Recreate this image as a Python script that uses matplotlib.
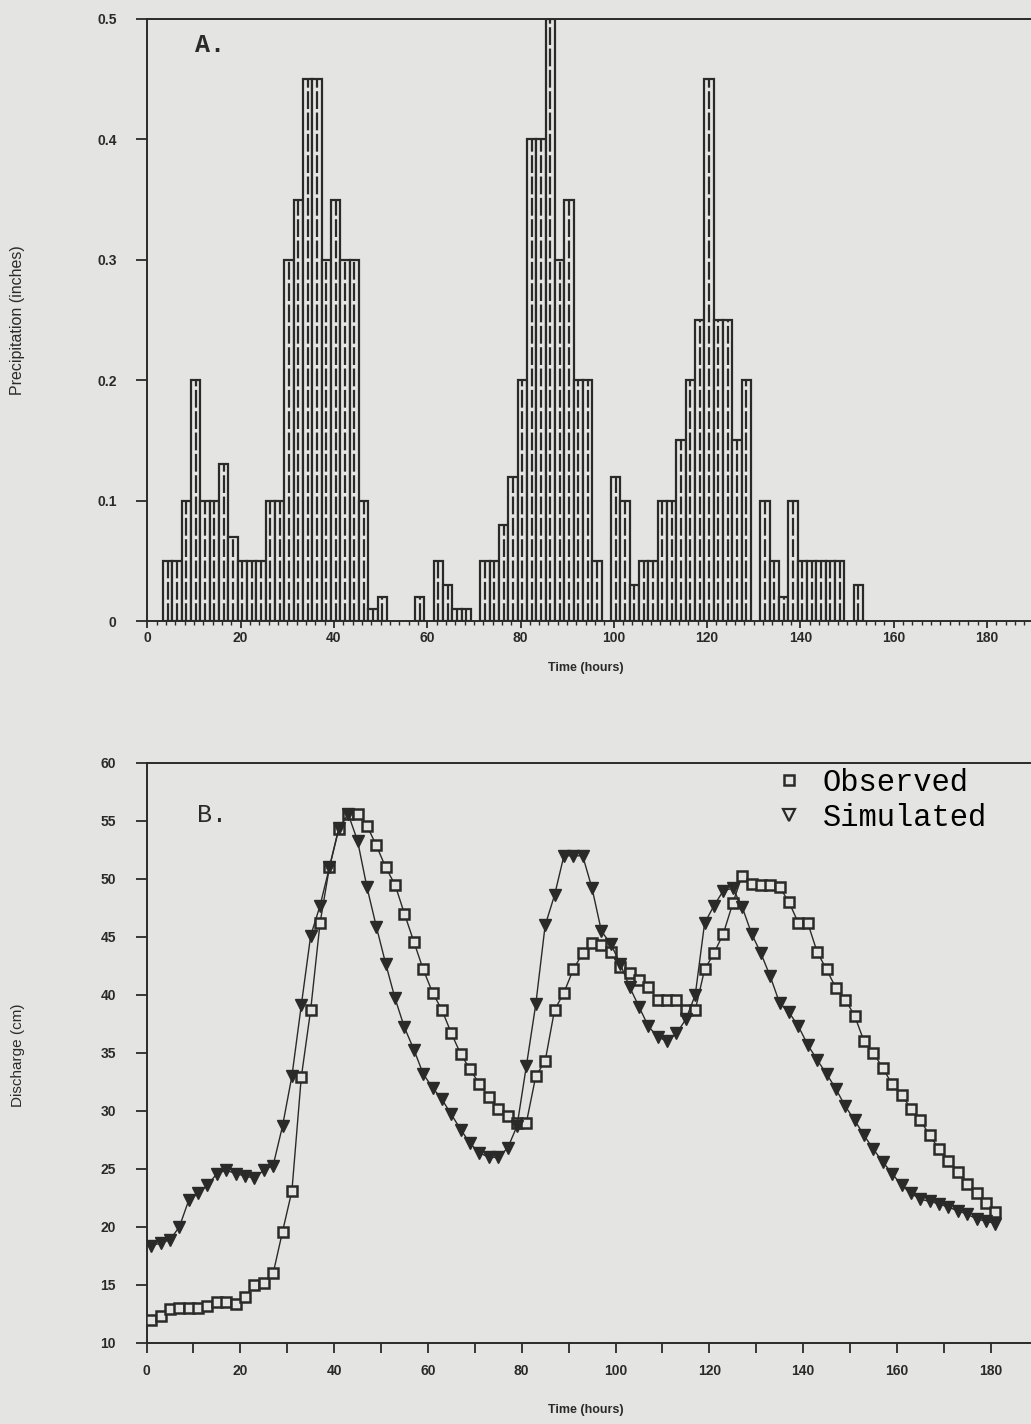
import matplotlib
matplotlib.use("Agg")
import matplotlib.pyplot as plt
from matplotlib.ticker import MultipleLocator, FuncFormatter
from matplotlib.lines import Line2D
import numpy as np

# ---------------- data ----------------
# Precipitation (inches) in 2-hour bins; hour = bin start
precip_hours = list(range(4, 154, 2))
precip = [0.05, 0.05, 0.10, 0.20, 0.10, 0.10, 0.13, 0.07, 0.05, 0.05,
          0.05, 0.10, 0.10, 0.30, 0.35, 0.45, 0.45, 0.30, 0.35, 0.30,
          0.30, 0.10, 0.01, 0.02, 0.00, 0.00, 0.00, 0.02, 0.00, 0.05,
          0.03, 0.01, 0.01, 0.00, 0.05, 0.05, 0.08, 0.12, 0.20, 0.40,
          0.40, 0.50, 0.30, 0.35, 0.20, 0.20, 0.05, 0.00, 0.12, 0.10,
          0.03, 0.05, 0.05, 0.10, 0.10, 0.15, 0.20, 0.25, 0.45, 0.25,
          0.25, 0.15, 0.20, 0.00, 0.10, 0.05, 0.02, 0.10, 0.05, 0.05,
          0.05, 0.05, 0.05, 0.00, 0.03]

# Discharge (cms)
obs_hours = list(range(1, 182, 2))
observed = [12.0, 12.3, 12.9, 13.0, 13.0, 13.05, 13.15, 13.5, 13.55, 13.4,
            14.0, 15.0, 15.2, 16.0, 19.6, 23.1, 32.9, 38.7, 46.2, 51.0,
            54.3, 55.6, 55.6, 54.6, 52.9, 51.0, 49.5, 47.0, 44.6, 42.2,
            40.2, 38.7, 36.7, 34.9, 33.6, 32.3, 31.2, 30.2, 29.6, 29.0,
            29.0, 33.0, 34.3, 38.7, 40.2, 42.2, 43.6, 44.5, 44.3, 43.7,
            42.4, 41.9, 41.3, 40.7, 39.6, 39.6, 39.6, 38.7, 38.7, 42.2,
            43.6, 45.3, 47.9, 50.3, 49.6, 49.5, 49.5, 49.3, 48.0, 46.2,
            46.2, 43.7, 42.2, 40.6, 39.6, 38.2, 36.0, 35.0, 33.7, 32.3,
            31.4, 30.2, 29.2, 27.9, 26.7, 25.7, 24.7, 23.7, 22.9, 22.1,
            21.3]
sim_hours = list(range(1, 182, 2))
simulated = [18.4, 18.6, 18.9, 20.0, 22.3, 22.9, 23.6, 24.6, 24.9, 24.6,
             24.4, 24.2, 24.9, 25.3, 28.7, 33.0, 39.1, 45.1, 47.7, 51.0,
             54.4, 55.6, 53.3, 49.3, 45.9, 42.7, 39.7, 37.2, 35.3, 33.2,
             32.0, 31.0, 29.7, 28.4, 27.2, 26.4, 26.0, 26.0, 26.8, 28.7,
             33.9, 39.2, 46.0, 48.6, 52.0, 52.0, 52.0, 49.2, 45.5, 44.4,
             42.7, 40.7, 39.0, 37.3, 36.4, 36.0, 36.7, 37.9, 40.0, 46.2,
             47.7, 49.0, 49.2, 47.6, 45.3, 43.6, 41.6, 39.3, 38.5, 37.3,
             35.7, 34.4, 33.2, 31.9, 30.4, 29.2, 27.9, 26.7, 25.6, 24.6,
             23.6, 22.9, 22.4, 22.2, 22.0, 21.7, 21.4, 21.1, 20.7, 20.5,
             20.3]

# ---------------- style ----------------
BG = '#e4e4e2'
INK = '#2a2a2a'
SANS = ['Liberation Sans', 'DejaVu Sans']
MONO = ['Liberation Mono', 'DejaVu Sans Mono']
plt.rcParams['font.family'] = SANS

W, H = 1031, 1424
fig = plt.figure(figsize=(W / 100, H / 100), dpi=100, facecolor=BG)


def style_axes(ax):
    ax.set_facecolor(BG)
    for s in ('left', 'bottom', 'top'):
        ax.spines[s].set_color(INK)
        ax.spines[s].set_linewidth(1.4)
    ax.spines['right'].set_visible(False)
    for lab in ax.get_xticklabels() + ax.get_yticklabels():
        lab.set_fontweight('bold')


# ---------------- panel A ----------------
axA = fig.add_axes([147.3 / W, 1 - 621 / H, 1 - 147.3 / W, (621 - 19) / H])
bar_offset = -0.6
left = np.array(precip_hours, dtype=float) + bar_offset
hgt = np.array(precip)
m = hgt > 0
axA.bar(left[m], hgt[m], width=2.0, align='edge', facecolor=BG,
        edgecolor=INK, linewidth=1.6, zorder=2)
axA.vlines(left[m] + 1.0, 0, hgt[m], colors=INK, linewidth=1.6,
           linestyles=(0, (8, 1.6)), zorder=3)
axA.set_xlim(0, (W - 147.3) / 4.665)
axA.set_ylim(0, 0.5)
axA.xaxis.set_major_locator(MultipleLocator(20))
axA.xaxis.set_minor_locator(MultipleLocator(2))
axA.yaxis.set_major_locator(MultipleLocator(0.1))
axA.yaxis.set_major_formatter(FuncFormatter(lambda v, p: '0' if abs(v) < 1e-9 else f'{v:.1f}'))
axA.tick_params(axis='x', which='major', direction='out', length=5, width=1.3,
                pad=2, labelsize=10, colors=INK)
axA.tick_params(axis='x', which='minor', direction='out', length=3, width=1.0, colors=INK)
axA.tick_params(axis='y', which='major', direction='out', length=8, width=1.3,
                pad=14, labelsize=10, colors=INK)
style_axes(axA)
fig.text(195 / W, 1 - 45 / H, 'A.', family=MONO, fontsize=18, fontweight='bold',
         ha='left', va='center', color=INK)
fig.text(586 / W, 1 - 668 / H, 'Time (hours)', fontsize=9, fontweight='bold',
         ha='center', va='center', color=INK)
fig.text(18 / W, 1 - 320 / H, 'Precipitation (inches)', fontsize=11.5,
         rotation=90, ha='center', va='center', color=INK)

# ---------------- panel B ----------------
axB = fig.add_axes([146.5 / W, 1 - 1343 / H, 1 - 146.5 / W, (1343 - 763) / H])
axB.plot(obs_hours, observed, color=INK, lw=1.0, marker='s', ms=7,
         mfc=BG, mec=INK, mew=1.8, zorder=3)
axB.plot(sim_hours, simulated, color=INK, lw=1.0, marker='v', ms=8,
         mfc=INK, mec=INK, mew=1.0, zorder=3)
axB.set_xlim(0, (W - 146.5) / 4.69)
axB.set_ylim(10, 60)
axB.xaxis.set_major_locator(MultipleLocator(20))
axB.xaxis.set_minor_locator(MultipleLocator(10))
axB.yaxis.set_major_locator(MultipleLocator(5))
axB.tick_params(axis='x', which='both', direction='out', length=7, width=1.3,
                pad=8, labelsize=10, colors=INK)
axB.tick_params(axis='y', which='major', direction='out', length=8, width=1.3,
                pad=14, labelsize=10, colors=INK)
style_axes(axB)
fig.text(197 / W, 1 - 815 / H, 'B.', family=MONO, fontsize=18,
         ha='left', va='center', color=INK)
fig.text(586 / W, 1 - 1410 / H, 'Time (hours)', fontsize=9, fontweight='bold',
         ha='center', va='center', color=INK)
fig.text(18 / W, 1 - 1055 / H, 'Discharge (cm)', fontsize=11,
         rotation=90, ha='center', va='center', color=INK)

handles = [Line2D([], [], ls='none', marker='s', ms=7, mfc=BG, mec=INK, mew=1.8),
           Line2D([], [], ls='none', marker='v', ms=8, mfc=BG, mec=INK, mew=1.6)]
fig.legend(handles, ['Observed', 'Simulated'], loc='upper left',
           bbox_to_anchor=(777 / W, 1 - 768 / H), bbox_transform=fig.transFigure,
           frameon=False, prop={'family': MONO, 'size': 22},
           handlelength=0.8, handletextpad=0.7, labelspacing=0.15,
           borderpad=0, borderaxespad=0)

fig.savefig('out.png', dpi=100, facecolor=BG)
